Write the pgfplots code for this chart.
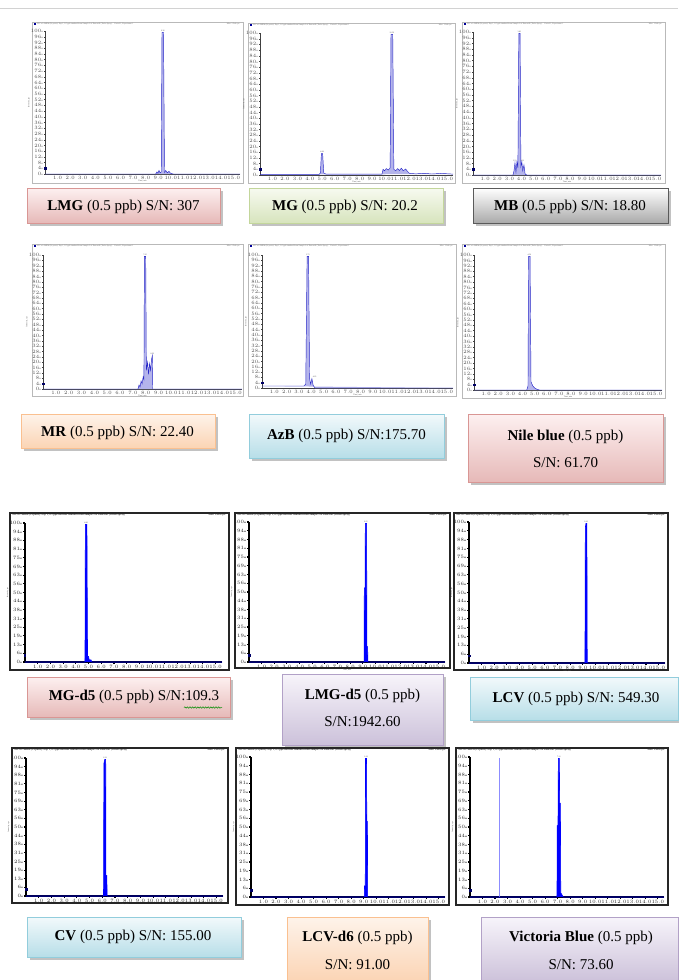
\documentclass[border=0pt]{standalone}
\usepackage{fontspec}
\setmainfont{Liberation Serif}
\usepackage{pgfplots}
\pgfplotsset{compat=1.18}
\usetikzlibrary{shadows,decorations.pathmorphing}

\definecolor{pinktp}{RGB}{253,240,240}\definecolor{pinkbt}{RGB}{230,185,184}\definecolor{pinkbd}{RGB}{217,150,148}
\definecolor{greentp}{RGB}{247,250,240}\definecolor{greenbt}{RGB}{215,228,189}\definecolor{greenbd}{RGB}{195,214,155}
\definecolor{graytp}{RGB}{255,255,255}\definecolor{graybt}{RGB}{170,170,170}\definecolor{graybd}{RGB}{90,90,90}
\definecolor{orangetp}{RGB}{254,243,234}\definecolor{orangebt}{RGB}{251,212,180}\definecolor{orangebd}{RGB}{250,192,144}
\definecolor{bluetp}{RGB}{242,249,251}\definecolor{bluebt}{RGB}{183,222,232}\definecolor{bluebd}{RGB}{146,205,220}
\definecolor{lavtp}{RGB}{247,244,250}\definecolor{lavbt}{RGB}{204,193,218}\definecolor{lavbd}{RGB}{178,161,199}
\definecolor{peakline}{RGB}{40,40,200}
\definecolor{peakfill}{RGB}{180,180,235}

\newcommand{\lbox}[5]{%
  \draw[draw=#5bd, line width=0.8pt, top color=#5tp, bottom color=#5bt,
        drop shadow={shadow xshift=2.5pt, shadow yshift=-2.5pt, fill=black!40, opacity=0.6}]
        (#1pt,-#2pt) rectangle (#3pt,-#4pt);}
\newcommand{\frameA}[4]{\draw[gray!55, line width=0.6pt] (#1pt,-#2pt) rectangle (#3pt,-#4pt);
  \fill[blue!60!black] (#1pt+1.5pt,-#2pt-1pt) rectangle (#1pt+3.5pt,-#2pt-3pt);
  \node[anchor=west, inner sep=0pt, font=\fontsize{2}{2.4}\selectfont, text=black!60] at (#1pt+5pt,-#2pt-2pt)
   {XIC of +MRM (14 pairs): Exp 1, 0.5 ppb standard from Sample 3 of Data.wiff (Turbo Spray) \quad Period 1, Experiment 1};
  \node[anchor=east, inner sep=0pt, font=\fontsize{2}{2.4}\selectfont, text=black!60] at (#3pt-3pt,-#2pt-2pt) {Max. 1.2e4 cps.};}
\newcommand{\frameB}[4]{\draw[black!85, line width=1.3pt] (#1pt,-#2pt) rectangle (#3pt,-#4pt);
  \node[anchor=west, inner sep=0pt, font=\fontsize{2.6}{3}\selectfont\bfseries, text=black!80] at (#1pt+2pt,-#2pt-2pt)
   {XIC of +MRM (14 pairs): Exp 1, 0.5 ppb internal standard from Sample 5 of Data.wiff (Turbo Spray)};
  \node[anchor=east, inner sep=0pt, font=\fontsize{2.6}{3}\selectfont\bfseries, text=black!80] at (#3pt-3pt,-#2pt-2pt) {Max. 3.4e4 cps.};}

\tikzset{pl/.style={font=\fontsize{2}{2.4}\selectfont, text=black!70, anchor=south, inner sep=0.8pt}}

\pgfplotsset{
  chrom/.style={
    scale only axis, anchor=south west,
    xmin=0, xmax=15.5, ymin=0, ymax=100,
    axis lines=left, axis line style={-, black!75, line width=0.4pt},
    xtick={1,...,15}, ytick={0,4,...,100},
    tick align=outside, major tick length=1.2pt,
    tick style={black!75, line width=0.3pt},
    ticklabel style={font=\fontsize{1.8}{2.2}\selectfont, text=black!70, inner sep=0.6pt},
    xticklabel={\pgfmathprintnumber[fixed,precision=1,fixed zerofill]{\tick}},
    yticklabel={\pgfmathprintnumber[fixed,precision=0]{\tick}00},
    xlabel={Time, min}, ylabel={Intensity, cps},
    label style={font=\fontsize{2}{2.4}\selectfont, text=black!70, inner sep=0.5pt},
    clip=false,
  },
  chromB/.style={chrom,
    axis line style={-, black, line width=1.1pt},
    ytick={0,6.25,...,100},
    tick style={black, line width=1.1pt}, major tick length=2.2pt,
    ticklabel style={text=black!85, font=\fontsize{2}{2.4}\selectfont\bfseries},
  },
  pkA/.style={draw=peakline, fill=peakfill, line width=0.45pt},
  pkB/.style={draw=blue, fill=blue, line width=0.6pt},
  thr/.style={only marks, mark=square*, mark size=0.7pt, color=blue!40!black},
}

\begin{document}
\begin{tikzpicture}
\useasboundingbox (0,0) rectangle (678pt,-980pt);
\draw[gray!35, line width=0.8pt] (0,-8pt) -- (678pt,-8pt);

% ---------- Row 1 ----------
\frameA{32}{22}{243}{183}
\begin{axis}[chrom, at={(45pt,-174pt)}, width=195pt, height=143pt]
\addplot[pkA] coordinates {(0,0)(8.8,0)(8.9,1.5)(8.98,0.5)(9.06,2.5)(9.15,0.8)(9.24,1.5)(9.3,99)(9.42,99)(9.5,1)(9.6,2.5)(9.72,0.8)(9.85,1.8)(10.0,0.4)(10.2,0)(15.5,0)};
\addplot[thr] coordinates {(0,4)};
\node[pl] at (axis cs:9.36,99) {9.36};
\end{axis}

\frameA{248}{23}{455}{183}
\begin{axis}[chrom, at={(260pt,-175pt)}, width=193pt, height=142pt]
\addplot[pkA] coordinates {(0,0.4)(4.75,0.4)(4.85,1.5)(4.93,15)(5.03,15)(5.12,1.5)(5.3,0.6)(9.8,0.6)(9.88,4)(10.0,3)(10.15,4.5)(10.3,3.5)(10.45,5)(10.52,99)(10.66,99)(10.75,4)(10.9,3)(11.05,4.5)(11.2,3.2)(11.35,4.8)(11.5,3)(11.7,4.2)(11.85,2.5)(12.0,1.2)(12.5,0.8)(13.2,1.2)(13.8,0.7)(14.5,1.1)(15.2,0.8)(15.5,0.6)};
\addplot[thr] coordinates {(0,4)};
\node[pl] at (axis cs:4.98,15) {4.98};
\node[pl] at (axis cs:10.59,99) {10.59};
\end{axis}

\frameA{462}{22}{665}{183}
\begin{axis}[chrom, at={(473pt,-175pt)}, width=188pt, height=143pt]
\addplot[pkA] coordinates {(0,0)(3.3,0)(3.38,3)(3.46,8.5)(3.54,2)(3.62,9)(3.7,5)(3.78,99)(3.88,99)(3.95,6)(4.03,9)(4.1,3)(4.2,7)(4.3,0.5)(4.45,0)(15.5,0)};
\addplot[thr] coordinates {(0,4)};
\node[pl] at (axis cs:3.83,99) {3.83};
\node[pl] at (axis cs:3.46,9) {3.51};
\node[pl] at (axis cs:4.1,9) {4.21};
\end{axis}

\lbox{27}{188}{220}{223}{pink}
\node[font=\fontsize{15}{18}\selectfont] at (123.5pt,-206.5pt) {\textbf{LMG} (0.5 ppb) S/N: 307};
\lbox{249}{188}{443}{223}{green}
\node[font=\fontsize{15}{18}\selectfont] at (345pt,-207pt) {\textbf{MG} (0.5 ppb) S/N: 20.2};
\lbox{473}{188}{668}{223}{gray}
\node[font=\fontsize{15}{18}\selectfont] at (570pt,-207pt) {\textbf{MB} (0.5 ppb) S/N: 18.80};

% ---------- Row 2 ----------
\frameA{32}{244}{243}{396}
\begin{axis}[chrom, at={(43pt,-389pt)}, width=199pt, height=134pt]
\addplot[pkA] coordinates {(0,0)(7.4,0)(7.48,3)(7.56,1.5)(7.64,6)(7.72,4)(7.8,9)(7.86,7)(7.9,99)(8.0,99)(8.05,14)(8.15,20)(8.22,11)(8.3,19)(8.38,14)(8.45,22)(8.52,25)(8.55,0)(15.5,0)};
\addplot[thr] coordinates {(0,4)};
\node[pl] at (axis cs:7.95,99) {7.95};
\node[pl] at (axis cs:8.52,25) {8.52};
\end{axis}

\frameA{248}{244}{456}{396}
\begin{axis}[chrom, at={(262pt,-388pt)}, width=191pt, height=133pt]
\addplot[pkA] coordinates {(0,1.5)(3.4,1.5)(3.55,3)(3.66,99)(3.78,99)(3.86,7)(3.95,3)(4.05,7)(4.15,2)(4.3,0)(15.5,0)};
\addplot[thr] coordinates {(0,4)};
\node[pl] at (axis cs:3.72,99) {3.72};
\node[pl, anchor=south west] at (axis cs:4.05,7) {4.05};
\end{axis}

\frameA{462}{244}{665}{398}
\begin{axis}[chrom, at={(474pt,-390pt)}, width=188pt, height=135pt]
\addplot[pkA] coordinates {(0,0)(4.35,0)(4.45,3)(4.5,99)(4.62,99)(4.7,6)(4.85,3)(5.0,1.5)(5.2,0.5)(5.4,0)(15.5,0)};
\addplot[thr] coordinates {(0,4)};
\node[pl] at (axis cs:4.56,99) {4.56};
\end{axis}

\lbox{21}{414}{215}{448}{orange}
\node[font=\fontsize{15}{18}\selectfont] at (117.5pt,-433pt) {\textbf{MR} (0.5 ppb) S/N: 22.40};
\lbox{249}{414}{444}{458}{blue}
\node[font=\fontsize{15}{18}\selectfont] at (346.5pt,-436pt) {\textbf{AzB} (0.5 ppb) S/N:175.70};
\lbox{468}{414}{663}{482}{pink}
\node[font=\fontsize{15}{18}\selectfont] at (565.5pt,-437pt) {\textbf{Nile blue} (0.5 ppb)};
\node[font=\fontsize{15}{18}\selectfont] at (565.5pt,-463pt) {S/N: 61.70};

% ---------- Row 3 ----------
\frameB{10}{513}{229}{670}
\begin{axis}[chromB, at={(25pt,-662pt)}, width=197pt, height=139pt]
\addplot[pkB] coordinates {(0,0)(4.72,0)(4.75,99)(4.87,99)(4.92,4)(5.0,4)(5.05,1.5)(5.2,1.5)(5.25,0)(15.5,0)};
\addplot[thr] coordinates {(0,5)};
\node[pl] at (axis cs:4.8,99) {4.80};
\end{axis}

\frameB{235}{513}{450}{668}
\begin{axis}[chromB, at={(249pt,-662pt)}, width=196pt, height=140pt]
\addplot[pkB] coordinates {(0,0)(9.1,0)(9.12,53)(9.18,53)(9.2,99)(9.3,99)(9.32,11)(9.38,11)(9.4,0)(15.5,0)};
\addplot[thr] coordinates {(0,5)};
\node[pl] at (axis cs:9.25,99) {9.25};
\end{axis}

\frameB{454}{513}{668}{670}
\begin{axis}[chromB, at={(469pt,-663pt)}, width=196pt, height=141pt]
\addplot[pkB] coordinates {(0,0)(9.17,0)(9.2,96)(9.25,99)(9.32,99)(9.35,0)(15.5,0)};
\addplot[thr] coordinates {(0,5)};
\node[pl] at (axis cs:9.26,99) {9.26};
\end{axis}

\lbox{27}{677}{230}{717}{pink}
\node[font=\fontsize{15}{18}\selectfont] at (134pt,-697pt) {\textbf{MG-d5} (0.5 ppb) S/N:109.3};
\draw[green!55!black, line width=0.5pt, decorate, decoration={snake, amplitude=0.7pt, segment length=2.6pt}] (184pt,-707.5pt) -- (222pt,-707.5pt);
\lbox{282}{674}{443}{745}{lav}
\node[font=\fontsize{15}{18}\selectfont] at (362.5pt,-696pt) {\textbf{LMG-d5} (0.5 ppb)};
\node[font=\fontsize{15}{18}\selectfont] at (362.5pt,-722pt) {S/N:1942.60};
\lbox{470}{677}{678}{720}{blue}
\node[font=\fontsize{15}{18}\selectfont] at (576pt,-699pt) {\textbf{LCV} (0.5 ppb) S/N: 549.30};

% ---------- Row 4 ----------
\frameB{12}{748}{228}{903}
\begin{axis}[chromB, at={(26pt,-896pt)}, width=197pt, height=138pt]
\addplot[pkB] coordinates {(0,0)(6.1,0)(6.13,96)(6.2,99)(6.27,99)(6.29,15)(6.36,15)(6.38,0)(15.5,0)};
\addplot[thr] coordinates {(0,5)};
\node[pl] at (axis cs:6.22,99) {6.22};
\end{axis}

\frameB{236}{748}{449}{905}
\begin{axis}[chromB, at={(251pt,-897pt)}, width=194pt, height=140pt]
\addplot[pkB] coordinates {(0,0)(9.05,0)(9.07,8)(9.13,8)(9.15,99)(9.23,99)(9.25,54)(9.3,54)(9.32,0)(15.5,0)};
\addplot[thr] coordinates {(0,5)};
\node[pl] at (axis cs:9.19,99) {9.19};
\end{axis}

\frameB{456}{748}{668}{905}
\begin{axis}[chromB, at={(470pt,-897pt)}, width=194pt, height=140pt]
\addplot[blue!45!white, line width=0.6pt] coordinates {(2.32,0)(2.32,99)};
\addplot[pkB] coordinates {(0,0)(6.95,0)(6.97,51)(7.03,51)(7.06,99)(7.14,99)(7.16,67)(7.22,67)(7.25,3)(7.35,1.5)(7.45,0)(15.5,0)};
\addplot[thr] coordinates {(0,5)};
\node[pl] at (axis cs:7.1,99) {7.10};
\end{axis}

\lbox{27}{917}{241}{957}{blue}
\node[font=\fontsize{15}{18}\selectfont] at (133pt,-937pt) {\textbf{CV} (0.5 ppb) S/N: 155.00};
\lbox{287}{917}{428}{982}{orange}
\node[font=\fontsize{15}{18}\selectfont] at (357.5pt,-938pt) {\textbf{LCV-d6} (0.5 ppb)};
\node[font=\fontsize{15}{18}\selectfont] at (357.5pt,-965pt) {S/N: 91.00};
\lbox{481}{917}{678}{982}{lav}
\node[font=\fontsize{15}{18}\selectfont] at (581pt,-938pt) {\textbf{Victoria Blue} (0.5 ppb)};
\node[font=\fontsize{15}{18}\selectfont] at (581pt,-965pt) {S/N: 73.60};
\end{tikzpicture}
\end{document}
